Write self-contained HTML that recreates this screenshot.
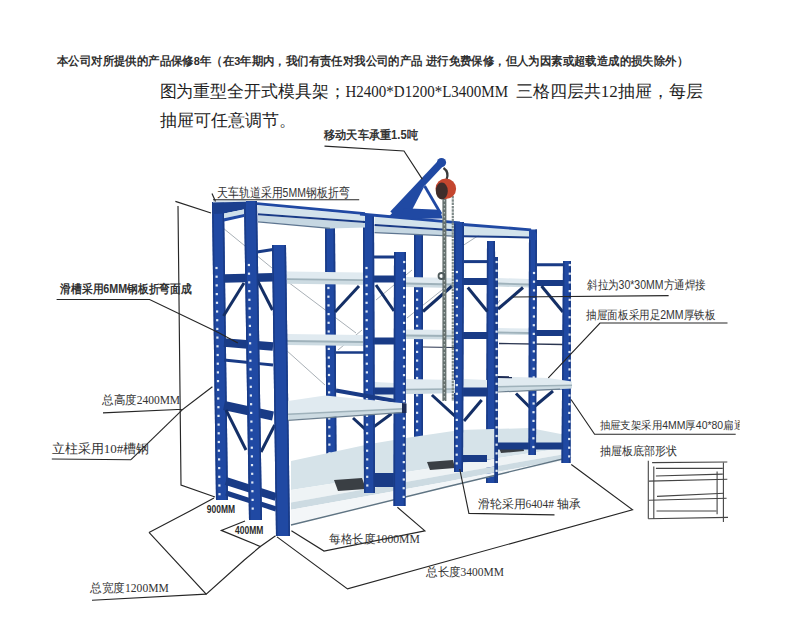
<!DOCTYPE html>
<html><head><meta charset="utf-8"><title>模具架</title>
<style>
html,body{margin:0;padding:0;background:#fff;}
body{width:785px;height:626px;overflow:hidden;font-family:"Liberation Sans",sans-serif;}
svg{display:block;}
</style></head>
<body>
<svg width="785" height="626" viewBox="0 0 785 626">
<rect width="785" height="626" fill="#ffffff"/>
<clipPath id="c"><rect x="0" y="0" width="739.6" height="626"/></clipPath>
<g clip-path="url(#c)">
<polyline points="223.0,228.0 272.0,268.0" fill="none" stroke="#a9b0b6" stroke-width="1" />
<polyline points="288.0,282.0 356.0,333.0" fill="none" stroke="#a9b0b6" stroke-width="1" />
<polyline points="376.0,300.0 412.0,270.0" fill="none" stroke="#a9b0b6" stroke-width="1" />
<polyline points="407.0,318.0 452.0,282.0" fill="none" stroke="#a9b0b6" stroke-width="1" />
<polyline points="286.0,350.0 325.0,385.0" fill="none" stroke="#a9b0b6" stroke-width="1" />
<polyline points="338.0,350.0 362.0,330.0" fill="none" stroke="#a9b0b6" stroke-width="1" />
<polyline points="500.0,300.0 487.0,318.0" fill="none" stroke="#a9b0b6" stroke-width="1" />
<polyline points="456.0,250.0 487.0,230.0" fill="none" stroke="#a9b0b6" stroke-width="1" />
<polygon points="212.0,202.0 224.0,202.0 228.0,500.0 216.0,500.0" fill="#2049a3" />
<line x1="212.8" y1="202.0" x2="216.8" y2="500.0" stroke="#193b86" stroke-width="1.6" stroke-linecap="butt"/>
<line x1="223.2" y1="202.0" x2="227.2" y2="500.0" stroke="#193b86" stroke-width="1.6" stroke-linecap="butt"/>
<rect x="215.4" y="266.9" width="2.2" height="2.2" fill="#dfe8f4"/>
<rect x="215.5" y="275.6" width="2.2" height="2.2" fill="#dfe8f4"/>
<rect x="215.6" y="284.3" width="2.2" height="2.2" fill="#dfe8f4"/>
<rect x="215.7" y="293.0" width="2.2" height="2.2" fill="#dfe8f4"/>
<rect x="215.9" y="301.7" width="2.2" height="2.2" fill="#dfe8f4"/>
<rect x="216.0" y="310.4" width="2.2" height="2.2" fill="#dfe8f4"/>
<rect x="216.1" y="319.1" width="2.2" height="2.2" fill="#dfe8f4"/>
<rect x="216.2" y="327.8" width="2.2" height="2.2" fill="#dfe8f4"/>
<rect x="216.3" y="336.5" width="2.2" height="2.2" fill="#dfe8f4"/>
<rect x="216.4" y="345.2" width="2.2" height="2.2" fill="#dfe8f4"/>
<rect x="216.6" y="353.9" width="2.2" height="2.2" fill="#dfe8f4"/>
<rect x="216.7" y="362.6" width="2.2" height="2.2" fill="#dfe8f4"/>
<rect x="216.8" y="371.3" width="2.2" height="2.2" fill="#dfe8f4"/>
<rect x="216.9" y="380.0" width="2.2" height="2.2" fill="#dfe8f4"/>
<rect x="217.0" y="388.7" width="2.2" height="2.2" fill="#dfe8f4"/>
<rect x="217.1" y="397.4" width="2.2" height="2.2" fill="#dfe8f4"/>
<rect x="217.3" y="406.1" width="2.2" height="2.2" fill="#dfe8f4"/>
<rect x="217.4" y="414.8" width="2.2" height="2.2" fill="#dfe8f4"/>
<rect x="217.5" y="423.5" width="2.2" height="2.2" fill="#dfe8f4"/>
<rect x="217.6" y="432.2" width="2.2" height="2.2" fill="#dfe8f4"/>
<rect x="217.7" y="440.9" width="2.2" height="2.2" fill="#dfe8f4"/>
<rect x="217.8" y="449.6" width="2.2" height="2.2" fill="#dfe8f4"/>
<rect x="218.0" y="458.3" width="2.2" height="2.2" fill="#dfe8f4"/>
<rect x="218.1" y="467.0" width="2.2" height="2.2" fill="#dfe8f4"/>
<rect x="218.2" y="475.7" width="2.2" height="2.2" fill="#dfe8f4"/>
<rect x="218.3" y="484.4" width="2.2" height="2.2" fill="#dfe8f4"/>
<rect x="218.4" y="493.1" width="2.2" height="2.2" fill="#dfe8f4"/>
<rect x="215.5" y="210.5" width="2.4" height="2.4" fill="#dfe8f4"/>
<polygon points="325.0,228.0 335.0,228.0 336.5,458.0 326.5,458.0" fill="#2049a3" />
<line x1="325.8" y1="228.0" x2="327.3" y2="458.0" stroke="#193b86" stroke-width="1.6" stroke-linecap="butt"/>
<line x1="334.2" y1="228.0" x2="335.7" y2="458.0" stroke="#193b86" stroke-width="1.6" stroke-linecap="butt"/>
<rect x="327.3" y="286.9" width="2.2" height="2.2" fill="#dfe8f4"/>
<rect x="327.3" y="295.6" width="2.2" height="2.2" fill="#dfe8f4"/>
<rect x="327.4" y="304.3" width="2.2" height="2.2" fill="#dfe8f4"/>
<rect x="327.5" y="313.0" width="2.2" height="2.2" fill="#dfe8f4"/>
<rect x="327.5" y="321.7" width="2.2" height="2.2" fill="#dfe8f4"/>
<rect x="327.6" y="330.4" width="2.2" height="2.2" fill="#dfe8f4"/>
<rect x="327.6" y="339.1" width="2.2" height="2.2" fill="#dfe8f4"/>
<rect x="327.7" y="347.8" width="2.2" height="2.2" fill="#dfe8f4"/>
<rect x="327.7" y="356.5" width="2.2" height="2.2" fill="#dfe8f4"/>
<rect x="327.8" y="365.2" width="2.2" height="2.2" fill="#dfe8f4"/>
<rect x="327.9" y="373.9" width="2.2" height="2.2" fill="#dfe8f4"/>
<rect x="327.9" y="382.6" width="2.2" height="2.2" fill="#dfe8f4"/>
<rect x="328.0" y="391.3" width="2.2" height="2.2" fill="#dfe8f4"/>
<rect x="328.0" y="400.0" width="2.2" height="2.2" fill="#dfe8f4"/>
<rect x="328.1" y="408.7" width="2.2" height="2.2" fill="#dfe8f4"/>
<rect x="328.1" y="417.4" width="2.2" height="2.2" fill="#dfe8f4"/>
<rect x="328.2" y="426.1" width="2.2" height="2.2" fill="#dfe8f4"/>
<rect x="328.3" y="434.8" width="2.2" height="2.2" fill="#dfe8f4"/>
<rect x="328.3" y="443.5" width="2.2" height="2.2" fill="#dfe8f4"/>
<rect x="328.4" y="452.2" width="2.2" height="2.2" fill="#dfe8f4"/>
<polygon points="414.0,235.0 423.0,235.0 423.0,441.0 414.0,441.0" fill="#2049a3" />
<line x1="414.8" y1="235.0" x2="414.8" y2="441.0" stroke="#193b86" stroke-width="1.6" stroke-linecap="butt"/>
<line x1="422.2" y1="235.0" x2="422.2" y2="441.0" stroke="#193b86" stroke-width="1.6" stroke-linecap="butt"/>
<rect x="416.0" y="289.9" width="2.2" height="2.2" fill="#dfe8f4"/>
<rect x="416.0" y="298.6" width="2.2" height="2.2" fill="#dfe8f4"/>
<rect x="416.0" y="307.3" width="2.2" height="2.2" fill="#dfe8f4"/>
<rect x="416.0" y="316.0" width="2.2" height="2.2" fill="#dfe8f4"/>
<rect x="416.0" y="324.7" width="2.2" height="2.2" fill="#dfe8f4"/>
<rect x="416.0" y="333.4" width="2.2" height="2.2" fill="#dfe8f4"/>
<rect x="416.0" y="342.1" width="2.2" height="2.2" fill="#dfe8f4"/>
<rect x="416.0" y="350.8" width="2.2" height="2.2" fill="#dfe8f4"/>
<rect x="416.0" y="359.5" width="2.2" height="2.2" fill="#dfe8f4"/>
<rect x="416.0" y="368.2" width="2.2" height="2.2" fill="#dfe8f4"/>
<rect x="416.0" y="376.9" width="2.2" height="2.2" fill="#dfe8f4"/>
<rect x="416.0" y="385.6" width="2.2" height="2.2" fill="#dfe8f4"/>
<rect x="416.0" y="394.3" width="2.2" height="2.2" fill="#dfe8f4"/>
<rect x="416.0" y="403.0" width="2.2" height="2.2" fill="#dfe8f4"/>
<rect x="416.0" y="411.7" width="2.2" height="2.2" fill="#dfe8f4"/>
<rect x="416.0" y="420.4" width="2.2" height="2.2" fill="#dfe8f4"/>
<rect x="416.0" y="429.1" width="2.2" height="2.2" fill="#dfe8f4"/>
<polygon points="487.0,241.0 495.0,241.0 496.0,483.0 486.0,483.0" fill="#2049a3" />
<line x1="487.8" y1="241.0" x2="486.8" y2="483.0" stroke="#193b86" stroke-width="1.6" stroke-linecap="butt"/>
<line x1="494.2" y1="241.0" x2="495.2" y2="483.0" stroke="#193b86" stroke-width="1.6" stroke-linecap="butt"/>
<line x1="336.0" y1="456.5" x2="364.0" y2="467.0" stroke="#193b86" stroke-width="3.5" stroke-linecap="butt"/>
<line x1="423.0" y1="444.0" x2="456.0" y2="444.0" stroke="#193b86" stroke-width="8" stroke-linecap="butt"/>
<line x1="336.0" y1="352.5" x2="364.0" y2="352.5" stroke="#193b86" stroke-width="2.5" stroke-linecap="butt"/>
<line x1="423.0" y1="387.0" x2="454.0" y2="387.0" stroke="#193b86" stroke-width="5" stroke-linecap="butt"/>
<polygon points="291.0,461.0 370.0,444.0 406.0,438.0 460.0,430.0 530.0,428.0 571.0,436.0 571.0,447.0 445.0,466.0 291.0,490.0" fill="#d6e3e9" />
<polygon points="291.0,490.0 445.0,466.0 571.0,447.0 571.0,453.0 445.0,475.0 291.0,502.6" fill="#eef3f5" />
<polygon points="291.0,502.6 445.0,475.0 571.0,453.0 571.0,458.0 445.0,482.0 291.0,509.7" fill="#cddbe2" />
<polygon points="291.0,509.7 445.0,482.0 571.0,458.0 571.0,459.0 445.0,487.0 291.0,524.0" fill="#f3f6f8" />
<polyline points="291.0,525.0 445.0,487.3 571.0,457.0" fill="none" stroke="#5f7483" stroke-width="1.4" />
<polygon points="287.0,271.5 363.0,272.5 363.0,279.7 287.0,278.7" fill="#e0eaf0" />
<polygon points="287.0,278.7 363.0,279.7 363.0,284.7 287.0,283.7" fill="#cddbe2" />
<line x1="287.0" y1="279.2" x2="363.0" y2="280.2" stroke="#9fb2bb" stroke-width="1.8" stroke-linecap="butt"/>
<polygon points="287.0,334.0 363.0,335.0 363.0,341.5 287.0,340.5" fill="#e0eaf0" />
<polygon points="287.0,340.5 363.0,341.5 363.0,346.0 287.0,345.0" fill="#cddbe2" />
<line x1="287.0" y1="341.0" x2="363.0" y2="342.0" stroke="#9fb2bb" stroke-width="1.8" stroke-linecap="butt"/>
<polygon points="406.0,277.0 454.0,278.0 454.0,284.0 406.0,283.0" fill="#e0eaf0" />
<polygon points="406.0,283.0 454.0,284.0 454.0,288.0 406.0,287.0" fill="#cddbe2" />
<line x1="406.0" y1="283.5" x2="454.0" y2="284.5" stroke="#9fb2bb" stroke-width="1.8" stroke-linecap="butt"/>
<polygon points="406.0,329.5 454.0,330.0 454.0,335.5 406.0,335.0" fill="#e0eaf0" />
<polygon points="406.0,335.0 454.0,335.5 454.0,339.5 406.0,339.0" fill="#cddbe2" />
<line x1="406.0" y1="335.5" x2="454.0" y2="336.0" stroke="#9fb2bb" stroke-width="1.8" stroke-linecap="butt"/>
<polygon points="498.0,278.0 529.0,279.0 529.0,284.0 498.0,283.0" fill="#e0eaf0" />
<polygon points="498.0,283.0 529.0,284.0 529.0,287.5 498.0,286.5" fill="#cddbe2" />
<line x1="498.0" y1="283.5" x2="529.0" y2="284.5" stroke="#9fb2bb" stroke-width="1.8" stroke-linecap="butt"/>
<polygon points="498.0,328.0 529.0,328.5 529.0,332.5 498.0,332.0" fill="#e0eaf0" />
<polygon points="498.0,332.0 529.0,332.5 529.0,335.0 498.0,334.5" fill="#cddbe2" />
<line x1="498.0" y1="332.5" x2="529.0" y2="333.0" stroke="#9fb2bb" stroke-width="1.8" stroke-linecap="butt"/>
<polygon points="464.0,379.0 487.0,380.0 487.0,388.0 464.0,388.0" fill="#e0eaf0" />
<polygon points="375.0,382.0 394.6,383.0 394.6,400.0 375.0,396.0" fill="#e0eaf0" />
<line x1="499.0" y1="343.5" x2="563.0" y2="344.5" stroke="#2a3550" stroke-width="1.3" stroke-linecap="butt"/>
<line x1="423.0" y1="347.0" x2="454.0" y2="347.5" stroke="#2a3550" stroke-width="1.2" stroke-linecap="butt"/>
<polygon points="334.0,480.0 362.0,478.0 366.0,489.0 338.0,491.0" fill="#3a3f44" />
<polygon points="427.0,462.0 453.0,460.0 455.0,468.0 430.0,470.0" fill="#3a3f44" />
<polygon points="499.0,448.0 523.0,446.0 524.0,451.0 501.0,453.0" fill="#3a3f44" />
<line x1="224.0" y1="278.5" x2="273.0" y2="277.3" stroke="#193b86" stroke-width="8.5" stroke-linecap="butt"/>
<line x1="224.0" y1="342.5" x2="273.0" y2="346.5" stroke="#193b86" stroke-width="8.5" stroke-linecap="butt"/>
<line x1="224.0" y1="360.0" x2="273.0" y2="365.0" stroke="#193b86" stroke-width="2.8" stroke-linecap="butt"/>
<line x1="224.0" y1="405.5" x2="273.0" y2="416.0" stroke="#193b86" stroke-width="9" stroke-linecap="butt"/>
<line x1="226.0" y1="481.0" x2="276.0" y2="497.0" stroke="#193b86" stroke-width="8" stroke-linecap="butt"/>
<line x1="226.0" y1="493.0" x2="276.0" y2="509.0" stroke="#193b86" stroke-width="5" stroke-linecap="butt"/>
<line x1="257.0" y1="252.0" x2="273.0" y2="249.5" stroke="#193b86" stroke-width="3" stroke-linecap="butt"/>
<line x1="374.0" y1="279.0" x2="394.0" y2="279.0" stroke="#193b86" stroke-width="7" stroke-linecap="butt"/>
<line x1="374.0" y1="341.0" x2="394.0" y2="341.0" stroke="#193b86" stroke-width="7" stroke-linecap="butt"/>
<line x1="374.0" y1="391.0" x2="394.0" y2="391.0" stroke="#193b86" stroke-width="7" stroke-linecap="butt"/>
<line x1="374.0" y1="480.0" x2="394.0" y2="480.0" stroke="#193b86" stroke-width="14" stroke-linecap="butt"/>
<line x1="374.0" y1="257.0" x2="394.0" y2="257.0" stroke="#193b86" stroke-width="3" stroke-linecap="butt"/>
<line x1="463.0" y1="281.5" x2="487.0" y2="281.5" stroke="#193b86" stroke-width="7" stroke-linecap="butt"/>
<line x1="463.0" y1="335.5" x2="487.0" y2="335.5" stroke="#193b86" stroke-width="7" stroke-linecap="butt"/>
<line x1="463.0" y1="392.0" x2="487.0" y2="392.0" stroke="#193b86" stroke-width="9" stroke-linecap="butt"/>
<line x1="463.0" y1="458.5" x2="487.0" y2="458.5" stroke="#193b86" stroke-width="7" stroke-linecap="butt"/>
<line x1="464.0" y1="261.6" x2="487.0" y2="261.6" stroke="#193b86" stroke-width="3" stroke-linecap="butt"/>
<line x1="536.0" y1="283.0" x2="563.0" y2="283.0" stroke="#193b86" stroke-width="6" stroke-linecap="butt"/>
<line x1="536.0" y1="333.0" x2="563.0" y2="333.0" stroke="#193b86" stroke-width="6" stroke-linecap="butt"/>
<line x1="536.0" y1="386.0" x2="563.0" y2="386.0" stroke="#193b86" stroke-width="7" stroke-linecap="butt"/>
<line x1="536.0" y1="446.0" x2="563.0" y2="446.0" stroke="#193b86" stroke-width="7" stroke-linecap="butt"/>
<line x1="497.0" y1="446.0" x2="529.0" y2="446.0" stroke="#193b86" stroke-width="7" stroke-linecap="butt"/>
<line x1="537.0" y1="264.8" x2="563.0" y2="264.8" stroke="#193b86" stroke-width="3" stroke-linecap="butt"/>
<line x1="223.5" y1="316.0" x2="244.0" y2="283.0" stroke="#142f66" stroke-width="3" stroke-linecap="butt"/>
<line x1="250.0" y1="266.0" x2="272.5" y2="310.0" stroke="#142f66" stroke-width="3" stroke-linecap="butt"/>
<line x1="335.0" y1="312.0" x2="359.0" y2="286.0" stroke="#142f66" stroke-width="3" stroke-linecap="butt"/>
<line x1="376.0" y1="285.0" x2="394.0" y2="311.0" stroke="#142f66" stroke-width="3" stroke-linecap="butt"/>
<line x1="423.0" y1="311.5" x2="452.0" y2="286.0" stroke="#142f66" stroke-width="3" stroke-linecap="butt"/>
<line x1="467.8" y1="287.5" x2="487.4" y2="311.5" stroke="#142f66" stroke-width="3" stroke-linecap="butt"/>
<line x1="498.0" y1="309.0" x2="523.0" y2="287.5" stroke="#142f66" stroke-width="3" stroke-linecap="butt"/>
<line x1="541.5" y1="286.0" x2="563.0" y2="312.0" stroke="#142f66" stroke-width="3" stroke-linecap="butt"/>
<line x1="226.0" y1="410.0" x2="246.0" y2="450.0" stroke="#142f66" stroke-width="3" stroke-linecap="butt"/>
<line x1="261.0" y1="452.0" x2="274.7" y2="425.0" stroke="#142f66" stroke-width="3" stroke-linecap="butt"/>
<line x1="353.0" y1="418.0" x2="367.6" y2="431.4" stroke="#142f66" stroke-width="3" stroke-linecap="butt"/>
<line x1="367.6" y1="431.4" x2="391.5" y2="413.7" stroke="#142f66" stroke-width="3" stroke-linecap="butt"/>
<line x1="431.9" y1="395.0" x2="454.7" y2="415.8" stroke="#142f66" stroke-width="3" stroke-linecap="butt"/>
<line x1="464.0" y1="421.0" x2="481.7" y2="400.0" stroke="#142f66" stroke-width="3" stroke-linecap="butt"/>
<line x1="516.0" y1="393.5" x2="531.5" y2="409.0" stroke="#142f66" stroke-width="3" stroke-linecap="butt"/>
<line x1="531.5" y1="409.0" x2="553.0" y2="391.0" stroke="#142f66" stroke-width="3" stroke-linecap="butt"/>
<polygon points="494.5,257.0 498.0,257.0 498.0,483.0 494.5,483.0" fill="#2049a3" />
<line x1="495.3" y1="257.0" x2="495.3" y2="483.0" stroke="#193b86" stroke-width="1.6" stroke-linecap="butt"/>
<line x1="497.2" y1="257.0" x2="497.2" y2="483.0" stroke="#193b86" stroke-width="1.6" stroke-linecap="butt"/>
<rect x="495.5" y="260.9" width="2.2" height="2.2" fill="#dfe8f4"/>
<rect x="495.5" y="269.6" width="2.2" height="2.2" fill="#dfe8f4"/>
<rect x="495.5" y="278.3" width="2.2" height="2.2" fill="#dfe8f4"/>
<rect x="495.5" y="287.0" width="2.2" height="2.2" fill="#dfe8f4"/>
<rect x="495.5" y="295.7" width="2.2" height="2.2" fill="#dfe8f4"/>
<rect x="495.5" y="304.4" width="2.2" height="2.2" fill="#dfe8f4"/>
<rect x="495.5" y="313.1" width="2.2" height="2.2" fill="#dfe8f4"/>
<rect x="495.5" y="321.8" width="2.2" height="2.2" fill="#dfe8f4"/>
<rect x="495.5" y="330.5" width="2.2" height="2.2" fill="#dfe8f4"/>
<rect x="495.5" y="339.2" width="2.2" height="2.2" fill="#dfe8f4"/>
<rect x="495.5" y="347.9" width="2.2" height="2.2" fill="#dfe8f4"/>
<rect x="495.5" y="356.6" width="2.2" height="2.2" fill="#dfe8f4"/>
<rect x="495.5" y="365.3" width="2.2" height="2.2" fill="#dfe8f4"/>
<rect x="495.5" y="374.0" width="2.2" height="2.2" fill="#dfe8f4"/>
<rect x="495.5" y="382.7" width="2.2" height="2.2" fill="#dfe8f4"/>
<rect x="495.5" y="391.4" width="2.2" height="2.2" fill="#dfe8f4"/>
<rect x="495.5" y="400.1" width="2.2" height="2.2" fill="#dfe8f4"/>
<rect x="495.5" y="408.8" width="2.2" height="2.2" fill="#dfe8f4"/>
<rect x="495.5" y="417.5" width="2.2" height="2.2" fill="#dfe8f4"/>
<rect x="495.5" y="426.2" width="2.2" height="2.2" fill="#dfe8f4"/>
<rect x="495.5" y="434.9" width="2.2" height="2.2" fill="#dfe8f4"/>
<rect x="495.5" y="443.6" width="2.2" height="2.2" fill="#dfe8f4"/>
<rect x="495.5" y="452.3" width="2.2" height="2.2" fill="#dfe8f4"/>
<rect x="495.5" y="461.0" width="2.2" height="2.2" fill="#dfe8f4"/>
<rect x="495.5" y="469.7" width="2.2" height="2.2" fill="#dfe8f4"/>
<polygon points="244.0,201.0 257.0,201.0 262.0,520.0 249.0,520.0" fill="#2049a3" />
<line x1="244.8" y1="201.0" x2="249.8" y2="520.0" stroke="#193b86" stroke-width="1.6" stroke-linecap="butt"/>
<line x1="256.2" y1="201.0" x2="261.2" y2="520.0" stroke="#193b86" stroke-width="1.6" stroke-linecap="butt"/>
<rect x="247.8" y="263.9" width="2.2" height="2.2" fill="#dfe8f4"/>
<rect x="247.9" y="272.6" width="2.2" height="2.2" fill="#dfe8f4"/>
<rect x="248.1" y="281.3" width="2.2" height="2.2" fill="#dfe8f4"/>
<rect x="248.2" y="290.0" width="2.2" height="2.2" fill="#dfe8f4"/>
<rect x="248.3" y="298.7" width="2.2" height="2.2" fill="#dfe8f4"/>
<rect x="248.5" y="307.4" width="2.2" height="2.2" fill="#dfe8f4"/>
<rect x="248.6" y="316.1" width="2.2" height="2.2" fill="#dfe8f4"/>
<rect x="248.8" y="324.8" width="2.2" height="2.2" fill="#dfe8f4"/>
<rect x="248.9" y="333.5" width="2.2" height="2.2" fill="#dfe8f4"/>
<rect x="249.0" y="342.2" width="2.2" height="2.2" fill="#dfe8f4"/>
<rect x="249.2" y="350.9" width="2.2" height="2.2" fill="#dfe8f4"/>
<rect x="249.3" y="359.6" width="2.2" height="2.2" fill="#dfe8f4"/>
<rect x="249.4" y="368.3" width="2.2" height="2.2" fill="#dfe8f4"/>
<rect x="249.6" y="377.0" width="2.2" height="2.2" fill="#dfe8f4"/>
<rect x="249.7" y="385.7" width="2.2" height="2.2" fill="#dfe8f4"/>
<rect x="249.8" y="394.4" width="2.2" height="2.2" fill="#dfe8f4"/>
<rect x="250.0" y="403.1" width="2.2" height="2.2" fill="#dfe8f4"/>
<rect x="250.1" y="411.8" width="2.2" height="2.2" fill="#dfe8f4"/>
<rect x="250.3" y="420.5" width="2.2" height="2.2" fill="#dfe8f4"/>
<rect x="250.4" y="429.2" width="2.2" height="2.2" fill="#dfe8f4"/>
<rect x="250.5" y="437.9" width="2.2" height="2.2" fill="#dfe8f4"/>
<rect x="250.7" y="446.6" width="2.2" height="2.2" fill="#dfe8f4"/>
<rect x="250.8" y="455.3" width="2.2" height="2.2" fill="#dfe8f4"/>
<rect x="250.9" y="464.0" width="2.2" height="2.2" fill="#dfe8f4"/>
<rect x="251.1" y="472.7" width="2.2" height="2.2" fill="#dfe8f4"/>
<rect x="251.2" y="481.4" width="2.2" height="2.2" fill="#dfe8f4"/>
<rect x="251.3" y="490.1" width="2.2" height="2.2" fill="#dfe8f4"/>
<rect x="251.5" y="498.8" width="2.2" height="2.2" fill="#dfe8f4"/>
<rect x="251.6" y="507.5" width="2.2" height="2.2" fill="#dfe8f4"/>
<polygon points="272.0,245.0 286.0,245.0 290.0,536.0 276.0,536.0" fill="#2049a3" />
<line x1="272.8" y1="245.0" x2="276.8" y2="536.0" stroke="#193b86" stroke-width="1.6" stroke-linecap="butt"/>
<line x1="285.2" y1="245.0" x2="289.2" y2="536.0" stroke="#193b86" stroke-width="1.6" stroke-linecap="butt"/>
<polygon points="363.0,216.0 374.0,216.0 375.0,493.0 364.0,493.0" fill="#2049a3" />
<line x1="363.8" y1="216.0" x2="364.8" y2="493.0" stroke="#193b86" stroke-width="1.6" stroke-linecap="butt"/>
<line x1="373.2" y1="216.0" x2="374.2" y2="493.0" stroke="#193b86" stroke-width="1.6" stroke-linecap="butt"/>
<rect x="365.4" y="266.9" width="2.2" height="2.2" fill="#dfe8f4"/>
<rect x="365.4" y="275.6" width="2.2" height="2.2" fill="#dfe8f4"/>
<rect x="365.5" y="284.3" width="2.2" height="2.2" fill="#dfe8f4"/>
<rect x="365.5" y="293.0" width="2.2" height="2.2" fill="#dfe8f4"/>
<rect x="365.5" y="301.7" width="2.2" height="2.2" fill="#dfe8f4"/>
<rect x="365.5" y="310.4" width="2.2" height="2.2" fill="#dfe8f4"/>
<rect x="365.6" y="319.1" width="2.2" height="2.2" fill="#dfe8f4"/>
<rect x="365.6" y="327.8" width="2.2" height="2.2" fill="#dfe8f4"/>
<rect x="365.6" y="336.5" width="2.2" height="2.2" fill="#dfe8f4"/>
<rect x="365.7" y="345.2" width="2.2" height="2.2" fill="#dfe8f4"/>
<rect x="365.7" y="353.9" width="2.2" height="2.2" fill="#dfe8f4"/>
<rect x="365.7" y="362.6" width="2.2" height="2.2" fill="#dfe8f4"/>
<rect x="365.8" y="371.3" width="2.2" height="2.2" fill="#dfe8f4"/>
<rect x="365.8" y="380.0" width="2.2" height="2.2" fill="#dfe8f4"/>
<rect x="365.8" y="388.7" width="2.2" height="2.2" fill="#dfe8f4"/>
<rect x="365.9" y="397.4" width="2.2" height="2.2" fill="#dfe8f4"/>
<rect x="365.9" y="406.1" width="2.2" height="2.2" fill="#dfe8f4"/>
<rect x="365.9" y="414.8" width="2.2" height="2.2" fill="#dfe8f4"/>
<rect x="366.0" y="423.5" width="2.2" height="2.2" fill="#dfe8f4"/>
<rect x="366.0" y="432.2" width="2.2" height="2.2" fill="#dfe8f4"/>
<rect x="366.0" y="440.9" width="2.2" height="2.2" fill="#dfe8f4"/>
<rect x="366.0" y="449.6" width="2.2" height="2.2" fill="#dfe8f4"/>
<rect x="366.1" y="458.3" width="2.2" height="2.2" fill="#dfe8f4"/>
<rect x="366.1" y="467.0" width="2.2" height="2.2" fill="#dfe8f4"/>
<rect x="366.1" y="475.7" width="2.2" height="2.2" fill="#dfe8f4"/>
<rect x="366.2" y="484.4" width="2.2" height="2.2" fill="#dfe8f4"/>
<polygon points="394.0,252.0 406.0,252.0 405.5,506.0 393.5,506.0" fill="#2049a3" />
<line x1="394.8" y1="252.0" x2="394.3" y2="506.0" stroke="#193b86" stroke-width="1.6" stroke-linecap="butt"/>
<line x1="405.2" y1="252.0" x2="404.7" y2="506.0" stroke="#193b86" stroke-width="1.6" stroke-linecap="butt"/>
<rect x="403.1" y="260.9" width="2.2" height="2.2" fill="#dfe8f4"/>
<rect x="403.1" y="269.6" width="2.2" height="2.2" fill="#dfe8f4"/>
<rect x="403.0" y="278.3" width="2.2" height="2.2" fill="#dfe8f4"/>
<rect x="403.0" y="287.0" width="2.2" height="2.2" fill="#dfe8f4"/>
<rect x="403.0" y="295.7" width="2.2" height="2.2" fill="#dfe8f4"/>
<rect x="403.0" y="304.4" width="2.2" height="2.2" fill="#dfe8f4"/>
<rect x="403.0" y="313.1" width="2.2" height="2.2" fill="#dfe8f4"/>
<rect x="403.0" y="321.8" width="2.2" height="2.2" fill="#dfe8f4"/>
<rect x="402.9" y="330.5" width="2.2" height="2.2" fill="#dfe8f4"/>
<rect x="402.9" y="339.2" width="2.2" height="2.2" fill="#dfe8f4"/>
<rect x="402.9" y="347.9" width="2.2" height="2.2" fill="#dfe8f4"/>
<rect x="402.9" y="356.6" width="2.2" height="2.2" fill="#dfe8f4"/>
<rect x="402.9" y="365.3" width="2.2" height="2.2" fill="#dfe8f4"/>
<rect x="402.9" y="374.0" width="2.2" height="2.2" fill="#dfe8f4"/>
<rect x="402.8" y="382.7" width="2.2" height="2.2" fill="#dfe8f4"/>
<rect x="402.8" y="391.4" width="2.2" height="2.2" fill="#dfe8f4"/>
<rect x="402.8" y="400.1" width="2.2" height="2.2" fill="#dfe8f4"/>
<rect x="402.8" y="408.8" width="2.2" height="2.2" fill="#dfe8f4"/>
<rect x="402.8" y="417.5" width="2.2" height="2.2" fill="#dfe8f4"/>
<rect x="402.8" y="426.2" width="2.2" height="2.2" fill="#dfe8f4"/>
<rect x="402.7" y="434.9" width="2.2" height="2.2" fill="#dfe8f4"/>
<rect x="402.7" y="443.6" width="2.2" height="2.2" fill="#dfe8f4"/>
<rect x="402.7" y="452.3" width="2.2" height="2.2" fill="#dfe8f4"/>
<rect x="402.7" y="461.0" width="2.2" height="2.2" fill="#dfe8f4"/>
<rect x="402.7" y="469.7" width="2.2" height="2.2" fill="#dfe8f4"/>
<rect x="402.7" y="478.4" width="2.2" height="2.2" fill="#dfe8f4"/>
<rect x="402.6" y="487.1" width="2.2" height="2.2" fill="#dfe8f4"/>
<rect x="402.6" y="495.8" width="2.2" height="2.2" fill="#dfe8f4"/>
<polygon points="454.0,222.0 464.0,222.0 463.0,472.0 454.0,472.0" fill="#2049a3" />
<line x1="454.8" y1="222.0" x2="454.8" y2="472.0" stroke="#193b86" stroke-width="1.6" stroke-linecap="butt"/>
<line x1="463.2" y1="222.0" x2="462.2" y2="472.0" stroke="#193b86" stroke-width="1.6" stroke-linecap="butt"/>
<rect x="455.8" y="270.9" width="2.2" height="2.2" fill="#dfe8f4"/>
<rect x="455.8" y="279.6" width="2.2" height="2.2" fill="#dfe8f4"/>
<rect x="455.8" y="288.3" width="2.2" height="2.2" fill="#dfe8f4"/>
<rect x="455.8" y="297.0" width="2.2" height="2.2" fill="#dfe8f4"/>
<rect x="455.8" y="305.7" width="2.2" height="2.2" fill="#dfe8f4"/>
<rect x="455.8" y="314.4" width="2.2" height="2.2" fill="#dfe8f4"/>
<rect x="455.8" y="323.1" width="2.2" height="2.2" fill="#dfe8f4"/>
<rect x="455.8" y="331.8" width="2.2" height="2.2" fill="#dfe8f4"/>
<rect x="455.8" y="340.5" width="2.2" height="2.2" fill="#dfe8f4"/>
<rect x="455.7" y="349.2" width="2.2" height="2.2" fill="#dfe8f4"/>
<rect x="455.7" y="357.9" width="2.2" height="2.2" fill="#dfe8f4"/>
<rect x="455.7" y="366.6" width="2.2" height="2.2" fill="#dfe8f4"/>
<rect x="455.7" y="375.3" width="2.2" height="2.2" fill="#dfe8f4"/>
<rect x="455.7" y="384.0" width="2.2" height="2.2" fill="#dfe8f4"/>
<rect x="455.7" y="392.7" width="2.2" height="2.2" fill="#dfe8f4"/>
<rect x="455.7" y="401.4" width="2.2" height="2.2" fill="#dfe8f4"/>
<rect x="455.7" y="410.1" width="2.2" height="2.2" fill="#dfe8f4"/>
<rect x="455.7" y="418.8" width="2.2" height="2.2" fill="#dfe8f4"/>
<rect x="455.7" y="427.5" width="2.2" height="2.2" fill="#dfe8f4"/>
<rect x="455.6" y="436.2" width="2.2" height="2.2" fill="#dfe8f4"/>
<rect x="455.6" y="444.9" width="2.2" height="2.2" fill="#dfe8f4"/>
<rect x="455.6" y="453.6" width="2.2" height="2.2" fill="#dfe8f4"/>
<rect x="455.6" y="462.3" width="2.2" height="2.2" fill="#dfe8f4"/>
<polygon points="529.0,229.5 537.0,229.5 536.0,455.0 528.5,455.0" fill="#2049a3" />
<line x1="529.8" y1="229.5" x2="529.3" y2="455.0" stroke="#193b86" stroke-width="1.6" stroke-linecap="butt"/>
<line x1="536.2" y1="229.5" x2="535.2" y2="455.0" stroke="#193b86" stroke-width="1.6" stroke-linecap="butt"/>
<rect x="532.9" y="271.9" width="2.2" height="2.2" fill="#dfe8f4"/>
<rect x="532.9" y="280.6" width="2.2" height="2.2" fill="#dfe8f4"/>
<rect x="532.9" y="289.3" width="2.2" height="2.2" fill="#dfe8f4"/>
<rect x="532.8" y="298.0" width="2.2" height="2.2" fill="#dfe8f4"/>
<rect x="532.8" y="306.7" width="2.2" height="2.2" fill="#dfe8f4"/>
<rect x="532.8" y="315.4" width="2.2" height="2.2" fill="#dfe8f4"/>
<rect x="532.7" y="324.1" width="2.2" height="2.2" fill="#dfe8f4"/>
<rect x="532.7" y="332.8" width="2.2" height="2.2" fill="#dfe8f4"/>
<rect x="532.7" y="341.5" width="2.2" height="2.2" fill="#dfe8f4"/>
<rect x="532.7" y="350.2" width="2.2" height="2.2" fill="#dfe8f4"/>
<rect x="532.6" y="358.9" width="2.2" height="2.2" fill="#dfe8f4"/>
<rect x="532.6" y="367.6" width="2.2" height="2.2" fill="#dfe8f4"/>
<rect x="532.6" y="376.3" width="2.2" height="2.2" fill="#dfe8f4"/>
<rect x="532.5" y="385.0" width="2.2" height="2.2" fill="#dfe8f4"/>
<rect x="532.5" y="393.7" width="2.2" height="2.2" fill="#dfe8f4"/>
<rect x="532.5" y="402.4" width="2.2" height="2.2" fill="#dfe8f4"/>
<rect x="532.4" y="411.1" width="2.2" height="2.2" fill="#dfe8f4"/>
<rect x="532.4" y="419.8" width="2.2" height="2.2" fill="#dfe8f4"/>
<rect x="532.4" y="428.5" width="2.2" height="2.2" fill="#dfe8f4"/>
<rect x="532.3" y="437.2" width="2.2" height="2.2" fill="#dfe8f4"/>
<rect x="532.3" y="445.9" width="2.2" height="2.2" fill="#dfe8f4"/>
<polygon points="563.0,261.0 571.0,261.0 570.5,463.0 561.5,463.0" fill="#2049a3" />
<line x1="563.8" y1="261.0" x2="562.3" y2="463.0" stroke="#193b86" stroke-width="1.6" stroke-linecap="butt"/>
<line x1="570.2" y1="261.0" x2="569.7" y2="463.0" stroke="#193b86" stroke-width="1.6" stroke-linecap="butt"/>
<rect x="568.7" y="263.9" width="2.2" height="2.2" fill="#dfe8f4"/>
<rect x="568.7" y="272.6" width="2.2" height="2.2" fill="#dfe8f4"/>
<rect x="568.6" y="281.3" width="2.2" height="2.2" fill="#dfe8f4"/>
<rect x="568.6" y="290.0" width="2.2" height="2.2" fill="#dfe8f4"/>
<rect x="568.6" y="298.7" width="2.2" height="2.2" fill="#dfe8f4"/>
<rect x="568.5" y="307.4" width="2.2" height="2.2" fill="#dfe8f4"/>
<rect x="568.5" y="316.1" width="2.2" height="2.2" fill="#dfe8f4"/>
<rect x="568.5" y="324.8" width="2.2" height="2.2" fill="#dfe8f4"/>
<rect x="568.5" y="333.5" width="2.2" height="2.2" fill="#dfe8f4"/>
<rect x="568.4" y="342.2" width="2.2" height="2.2" fill="#dfe8f4"/>
<rect x="568.4" y="350.9" width="2.2" height="2.2" fill="#dfe8f4"/>
<rect x="568.4" y="359.6" width="2.2" height="2.2" fill="#dfe8f4"/>
<rect x="568.4" y="368.3" width="2.2" height="2.2" fill="#dfe8f4"/>
<rect x="568.3" y="377.0" width="2.2" height="2.2" fill="#dfe8f4"/>
<rect x="568.3" y="385.7" width="2.2" height="2.2" fill="#dfe8f4"/>
<rect x="568.3" y="394.4" width="2.2" height="2.2" fill="#dfe8f4"/>
<rect x="568.2" y="403.1" width="2.2" height="2.2" fill="#dfe8f4"/>
<rect x="568.2" y="411.8" width="2.2" height="2.2" fill="#dfe8f4"/>
<rect x="568.2" y="420.5" width="2.2" height="2.2" fill="#dfe8f4"/>
<rect x="568.2" y="429.2" width="2.2" height="2.2" fill="#dfe8f4"/>
<rect x="568.1" y="437.9" width="2.2" height="2.2" fill="#dfe8f4"/>
<rect x="568.1" y="446.6" width="2.2" height="2.2" fill="#dfe8f4"/>
<rect x="568.1" y="455.3" width="2.2" height="2.2" fill="#dfe8f4"/>
<polygon points="406.0,379.0 455.0,380.0 455.0,393.0 406.0,394.0" fill="#e0eaf0" />
<polygon points="406.0,389.0 455.0,388.5 455.0,393.0 406.0,394.0" fill="#cddbe2" />
<line x1="406.0" y1="389.5" x2="455.0" y2="389.0" stroke="#9fb2bb" stroke-width="1.6" stroke-linecap="butt"/>
<polygon points="498.0,376.5 548.0,378.0 572.0,381.5 572.0,388.0 498.0,391.0" fill="#e0eaf0" />
<polygon points="498.0,386.5 572.0,385.0 572.0,388.5 498.0,391.5" fill="#cddbe2" />
<line x1="498.0" y1="386.8" x2="572.0" y2="385.3" stroke="#9fb2bb" stroke-width="1.5" stroke-linecap="butt"/>
<line x1="498.0" y1="392.0" x2="560.0" y2="389.2" stroke="#6d8090" stroke-width="1.2" stroke-linecap="butt"/>
<line x1="498.0" y1="377.0" x2="512.0" y2="377.2" stroke="#1d2c55" stroke-width="2" stroke-linecap="butt"/>
<line x1="336.0" y1="390.5" x2="395.0" y2="401.0" stroke="#193b86" stroke-width="4" stroke-linecap="butt"/>
<polygon points="288.0,401.0 325.0,395.5 406.0,403.5 406.0,411.5 288.0,418.0" fill="#e0eaf0" />
<polygon points="288.0,414.0 406.0,408.5 406.0,412.0 288.0,420.0" fill="#cddbe2" />
<line x1="288.0" y1="414.3" x2="404.0" y2="408.8" stroke="#9fb2bb" stroke-width="1.5" stroke-linecap="butt"/>
<line x1="288.0" y1="420.3" x2="404.0" y2="412.3" stroke="#6d8090" stroke-width="1.2" stroke-linecap="butt"/>
<polygon points="402.0,403.0 406.5,403.5 406.5,413.0 402.0,413.0" fill="#1d2c55" />
<polygon points="213.0,200.5 246.0,199.8 246.0,202.2 213.0,203.0" fill="#d9e5ee" />
<polygon points="213.0,202.5 246.0,201.8 246.0,209.0 224.0,213.5 213.0,214.0" fill="#1b3f8e" />
<polygon points="224.0,213.5 244.0,209.5 244.0,214.0 224.0,218.2" fill="#cfe0ea" />
<polygon points="224.0,218.2 244.0,214.0 244.0,217.0 224.0,221.5" fill="#2049a3" />
<polygon points="258.0,205.5 365.0,215.0 365.0,221.0 258.0,213.3" fill="#d3e3ec" />
<polygon points="258.0,215.3 365.0,223.0 365.0,227.5 330.0,228.5 258.0,221.5" fill="#c6d7e2" />
<line x1="258.0" y1="214.3" x2="365.0" y2="222.0" stroke="#193b86" stroke-width="2" stroke-linecap="butt"/>
<line x1="257.0" y1="203.6" x2="365.0" y2="213.6" stroke="#2049a3" stroke-width="2.8" stroke-linecap="butt"/>
<line x1="258.0" y1="221.8" x2="330.0" y2="228.3" stroke="#5d7590" stroke-width="1.3" stroke-linecap="butt"/>
<polygon points="374.6,217.0 442.8,220.3 454.0,222.0 454.0,229.2 374.6,224.0" fill="#d3e3ec" />
<polygon points="374.6,226.0 454.0,231.0 454.0,236.0 374.6,232.4" fill="#c6d7e2" />
<line x1="374.6" y1="225.0" x2="454.0" y2="230.2" stroke="#193b86" stroke-width="2" stroke-linecap="butt"/>
<line x1="360.0" y1="214.0" x2="460.0" y2="222.8" stroke="#2049a3" stroke-width="2.8" stroke-linecap="butt"/>
<line x1="374.6" y1="232.6" x2="454.0" y2="236.2" stroke="#5d7590" stroke-width="1.3" stroke-linecap="butt"/>
<polygon points="464.0,225.5 529.0,230.5 529.0,236.5 464.0,235.5" fill="#d3e3ec" />
<line x1="464.0" y1="236.2" x2="529.0" y2="237.4" stroke="#193b86" stroke-width="2" stroke-linecap="butt"/>
<line x1="463.0" y1="224.5" x2="531.0" y2="229.8" stroke="#2049a3" stroke-width="2.8" stroke-linecap="butt"/>
<path d="M529,229.5 Q535,229.5 536.5,234 L536.5,240 L529,240 Z" fill="#2049a3"/>
<polygon points="390.3,211.4 438.3,160.4 443.7,165.6 395.7,216.6" fill="#2049a3" />
<polygon points="389.0,216.5 395.7,209.0 424.5,186.0 412.8,208.5 405.0,218.5" fill="#2049a3" />
<polygon points="404.0,208.3 440.0,209.8 442.5,218.5 400.0,218.8" fill="#2049a3" />
<line x1="424.6" y1="186.0" x2="441.0" y2="214.0" stroke="#2049a3" stroke-width="2.8" stroke-linecap="butt"/>
<circle cx="441.5" cy="162.5" r="4.6" fill="#2049a3"/>
<path d="M443.5,168 Q449.5,172 446.5,180" fill="none" stroke="#3a3a3a" stroke-width="2.2"/>
<line x1="444.4" y1="196" x2="444.4" y2="401" stroke="#66716f" stroke-width="4"/>
<line x1="444.4" y1="196" x2="444.4" y2="401" stroke="#b5bfbe" stroke-width="1.3" stroke-dasharray="1.6,2.4"/>
<line x1="452.8" y1="196" x2="452.8" y2="401" stroke="#7f8a89" stroke-width="2.2" stroke-dasharray="2.5,0.8"/>
<circle cx="441.5" cy="276" r="3" fill="none" stroke="#4f5a5b" stroke-width="1.8"/>
<circle cx="445.8" cy="188.7" r="10.3" fill="#c4462f"/>
<ellipse cx="441.8" cy="191" rx="6" ry="8.5" fill="#3f2d2b"/>
<polyline points="324.5,146.1 404.0,151.0 422.3,179.1" fill="none" stroke="#262626" stroke-width="1.15" />
<polyline points="213.0,199.7 359.2,199.7" fill="none" stroke="#262626" stroke-width="1.15" />
<polyline points="212.0,193.4 215.5,201.4" fill="none" stroke="#262626" stroke-width="1.15" />
<polyline points="175.4,201.4 211.0,213.0" fill="none" stroke="#262626" stroke-width="1.15" />
<polyline points="178.0,206.0 181.0,485.0 215.0,497.0" fill="none" stroke="#262626" stroke-width="1.15" />
<polyline points="56.6,299.5 149.6,299.5 218.3,332.6 237.8,343.0" fill="none" stroke="#262626" stroke-width="1.15" />
<polyline points="103.0,412.9 183.0,409.2 212.4,386.8" fill="none" stroke="#262626" stroke-width="1.15" />
<polyline points="183.0,409.2 131.0,459.7" fill="none" stroke="#262626" stroke-width="1.15" />
<polyline points="51.8,459.0 131.0,459.7" fill="none" stroke="#262626" stroke-width="1.15" />
<polyline points="149.0,532.4 190.0,511.0 214.0,498.0" fill="none" stroke="#262626" stroke-width="1.15" />
<polyline points="149.0,532.4 206.2,594.1 244.3,560.0 260.3,546.5" fill="none" stroke="#262626" stroke-width="1.15" />
<polyline points="92.0,600.2 206.2,594.1" fill="none" stroke="#262626" stroke-width="1.15" />
<polyline points="245.0,521.0 221.3,530.4 260.3,546.5 275.6,535.8" fill="none" stroke="#262626" stroke-width="1.15" />
<polyline points="291.4,530.8 324.0,551.1 424.9,530.8 397.4,507.3" fill="none" stroke="#262626" stroke-width="1.15" />
<polyline points="277.0,536.9 347.5,588.9 632.5,509.7 571.3,464.5" fill="none" stroke="#262626" stroke-width="1.15" />
<polyline points="459.7,469.0 468.9,513.4 554.5,514.9" fill="none" stroke="#262626" stroke-width="1.15" />
<polyline points="513.0,297.0 668.6,295.6" fill="none" stroke="#262626" stroke-width="1.15" />
<polyline points="727.5,323.0 600.0,323.0 548.3,377.9" fill="none" stroke="#262626" stroke-width="1.15" />
<polyline points="735.7,434.2 594.6,434.2 571.0,399.5" fill="none" stroke="#262626" stroke-width="1.15" />
<polyline points="648.3,460.7 648.3,518.7" fill="none" stroke="#444" stroke-width="1.1" />
<polyline points="653.8,466.5 653.8,518.7" fill="none" stroke="#444" stroke-width="1.1" />
<polyline points="717.1,471.6 717.1,514.2" fill="none" stroke="#444" stroke-width="1.1" />
<polyline points="723.4,462.6 723.4,521.9" fill="none" stroke="#444" stroke-width="1.1" />
<polyline points="652.1,462.6 727.3,462.0" fill="none" stroke="#444" stroke-width="1.1" />
<polyline points="655.9,468.4 722.8,468.4" fill="none" stroke="#444" stroke-width="1.1" />
<polyline points="655.9,476.0 722.8,474.1" fill="none" stroke="#444" stroke-width="1.1" />
<polyline points="649.0,481.1 727.3,479.2" fill="none" stroke="#444" stroke-width="1.1" />
<polyline points="657.0,496.4 724.0,493.2" fill="none" stroke="#444" stroke-width="1.1" />
<polyline points="649.0,500.2 726.6,498.3" fill="none" stroke="#444" stroke-width="1.1" />
<polyline points="656.5,511.0 716.5,511.0" fill="none" stroke="#444" stroke-width="1.1" />
<polyline points="648.3,518.7 728.0,517.4" fill="none" stroke="#444" stroke-width="1.1" />
<text x="57.0" y="64.5" font-family="&quot;Liberation Sans&quot;, sans-serif" font-size="11.5" font-weight="bold" fill="#2e2e2e" textLength="631.0" lengthAdjust="spacingAndGlyphs" >本公司对所提供的产品保修8年（在3年期内，我们有责任对我公司的产品 进行免费保修，但人为因素或超载造成的损失除外）</text>
<text x="159.5" y="97.0" font-family="&quot;Liberation Serif&quot;, serif" font-size="17" font-weight="normal" fill="#1e1e1e" textLength="186.0" lengthAdjust="spacingAndGlyphs" >图为重型全开式模具架；</text>
<text x="345.5" y="97.0" font-family="&quot;Liberation Serif&quot;, serif" font-size="17" font-weight="normal" fill="#1e1e1e" textLength="162.5" lengthAdjust="spacingAndGlyphs" >H2400*D1200*L3400MM</text>
<text x="515.5" y="97.0" font-family="&quot;Liberation Serif&quot;, serif" font-size="17" font-weight="normal" fill="#1e1e1e" textLength="187.5" lengthAdjust="spacingAndGlyphs" >三格四层共12抽屉，每层</text>
<text x="160.0" y="126.3" font-family="&quot;Liberation Serif&quot;, serif" font-size="17" font-weight="normal" fill="#1e1e1e" textLength="136.0" lengthAdjust="spacingAndGlyphs" >抽屉可任意调节。</text>
<text x="324.0" y="139.4" font-family="&quot;Liberation Sans&quot;, sans-serif" font-size="12" font-weight="bold" fill="#333" textLength="93.8" lengthAdjust="spacingAndGlyphs" >移动天车承重1.5吨</text>
<text x="217.3" y="196.5" font-family="&quot;Liberation Sans&quot;, sans-serif" font-size="12.5" font-weight="normal" fill="#333" textLength="132.1" lengthAdjust="spacingAndGlyphs" >天车轨道采用5MM钢板折弯</text>
<text x="60.4" y="293.4" font-family="&quot;Liberation Sans&quot;, sans-serif" font-size="12" font-weight="bold" fill="#333" textLength="131.2" lengthAdjust="spacingAndGlyphs" >滑槽采用6MM钢板折弯面成</text>
<text x="587.0" y="289.1" font-family="&quot;Liberation Sans&quot;, sans-serif" font-size="12" font-weight="normal" fill="#333" textLength="118.6" lengthAdjust="spacingAndGlyphs" >斜拉为30*30MM方通焊接</text>
<text x="586.4" y="319.3" font-family="&quot;Liberation Sans&quot;, sans-serif" font-size="12" font-weight="normal" fill="#333" textLength="128.8" lengthAdjust="spacingAndGlyphs" >抽屉面板采用足2MM厚铁板</text>
<text x="102.2" y="404.0" font-family="&quot;Liberation Serif&quot;, serif" font-size="12" font-weight="normal" fill="#333" textLength="77.9" lengthAdjust="spacingAndGlyphs" >总高度2400MM</text>
<text x="51.8" y="453.0" font-family="&quot;Liberation Serif&quot;, serif" font-size="13" font-weight="normal" fill="#333" textLength="97.5" lengthAdjust="spacingAndGlyphs" >立柱采用10#槽钢</text>
<text x="599.6" y="429.2" font-family="&quot;Liberation Sans&quot;, sans-serif" font-size="11" font-weight="normal" fill="#333" textLength="144.4" lengthAdjust="spacingAndGlyphs" >抽屉支架采用4MM厚40*80扁通</text>
<text x="599.6" y="455.2" font-family="&quot;Liberation Sans&quot;, sans-serif" font-size="11.5" font-weight="normal" fill="#333" textLength="77.2" lengthAdjust="spacingAndGlyphs" >抽屉板底部形状</text>
<text x="206.8" y="512.8" font-family="&quot;Liberation Sans&quot;, sans-serif" font-size="10" font-weight="bold" fill="#2a2a2a" textLength="28.3" lengthAdjust="spacingAndGlyphs" >900MM</text>
<text x="235.1" y="533.5" font-family="&quot;Liberation Sans&quot;, sans-serif" font-size="10" font-weight="bold" fill="#2a2a2a" textLength="28.3" lengthAdjust="spacingAndGlyphs" >400MM</text>
<text x="329.1" y="543.0" font-family="&quot;Liberation Serif&quot;, serif" font-size="12" font-weight="normal" fill="#333" textLength="90.7" lengthAdjust="spacingAndGlyphs" >每格长度1000MM</text>
<text x="426.1" y="576.0" font-family="&quot;Liberation Serif&quot;, serif" font-size="12" font-weight="normal" fill="#333" textLength="77.9" lengthAdjust="spacingAndGlyphs" >总长度3400MM</text>
<text x="90.3" y="591.5" font-family="&quot;Liberation Serif&quot;, serif" font-size="12" font-weight="normal" fill="#333" textLength="78.5" lengthAdjust="spacingAndGlyphs" >总宽度1200MM</text>
<text x="478.0" y="507.9" font-family="&quot;Liberation Serif&quot;, serif" font-size="11.5" font-weight="normal" fill="#333" textLength="102.5" lengthAdjust="spacingAndGlyphs" >滑轮采用6404# 轴承</text>
</g>
</svg>
</body></html>
